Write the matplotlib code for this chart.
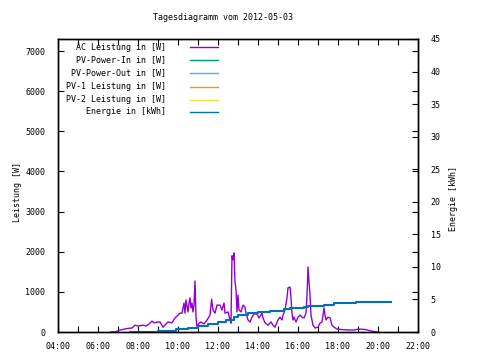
import matplotlib
matplotlib.use("Agg")
import matplotlib.pyplot as plt
from matplotlib.lines import Line2D

# ---- data ----
title = "Tagesdiagramm vom 2012-05-03"
series_labels = ["AC Leistung in [W]", "PV-Power-In in [W]", "PV-Power-Out in [W]",
                 "PV-1 Leistung in [W]", "PV-2 Leistung in [W]", "Energie in [kWh]"]
series_colors = ["#9400d3", "#009e73", "#56b4e9", "#e69f00", "#f0e442", "#0072b2"]

ac_time = [6.65, 6.9, 7.1, 7.3, 7.5, 7.7, 7.85, 8.0, 8.25, 8.4, 8.55, 8.7, 8.8, 9.0, 9.1,
           9.25, 9.5, 9.7, 9.85, 10.0, 10.1, 10.2, 10.3, 10.35, 10.4, 10.5, 10.55, 10.6,
           10.65, 10.7, 10.75, 10.8, 10.85, 10.9, 10.95, 11.05, 11.15, 11.3, 11.45, 11.6,
           11.68, 11.75, 11.85, 11.95, 12.1, 12.2, 12.3, 12.35, 12.5, 12.6, 12.65, 12.7,
           12.75, 12.8, 12.85, 12.9, 12.95, 13.0, 13.05, 13.15, 13.25, 13.35, 13.4, 13.5,
           13.6, 13.7, 13.8, 13.95, 14.05, 14.2, 14.25, 14.35, 14.5, 14.65, 14.75, 14.85,
           15.0, 15.1, 15.2, 15.25, 15.35, 15.45, 15.5, 15.6, 15.65, 15.7, 15.75, 15.8,
           15.9, 16.0, 16.1, 16.2, 16.3, 16.4, 16.45, 16.5, 16.55, 16.6, 16.65, 16.75,
           16.85, 17.0, 17.1, 17.2, 17.25, 17.3, 17.35, 17.4, 17.5, 17.6, 17.7, 17.8,
           17.95, 18.2, 18.5, 18.8, 19.0, 19.2, 19.4, 19.6, 19.85, 19.95]
ac_power = [0, 10, 50, 70, 90, 100, 170, 150, 170, 150, 200, 270, 230, 250, 250,
            120, 250, 230, 350, 420, 470, 470, 720, 470, 800, 500, 720, 850,
            600, 720, 500, 670, 1270, 370, 120, 220, 250, 200, 300, 420,
            820, 550, 470, 670, 670, 550, 720, 470, 500, 300, 220, 1900,
            1800, 1970, 1250, 1050, 500, 920, 550, 500, 670, 620, 470, 300,
            250, 370, 450, 450, 350, 470, 350, 230, 170, 250, 170, 120,
            300, 370, 300, 420, 550, 850, 1100, 1120, 850, 470, 300, 370,
            250, 370, 420, 370, 350, 470, 900, 1620, 1250, 920, 420, 170,
            100, 120, 220, 250, 420, 600, 420, 300, 370, 350, 170, 120,
            75, 60, 50, 50, 70, 70, 60, 30, 10, 0]

energy_time = [7.6, 9.0, 9.9, 10.5, 11.0, 11.5, 12.0, 12.4, 12.8, 13.0, 13.5, 14.0,
               14.6, 15.0, 15.3, 15.6, 16.3, 16.5, 17.3, 17.8, 18.9, 20.65]
energy_kwh = [0.0, 0.15, 0.4, 0.6, 0.9, 1.2, 1.5, 1.9, 2.3, 2.6, 2.9, 3.0,
              3.2, 3.3, 3.6, 3.7, 3.8, 4.0, 4.2, 4.4, 4.55, 4.55]

x_ticks = [4, 6, 8, 10, 12, 14, 16, 18, 20, 22]
x_ticklabels = ["04:00", "06:00", "08:00", "10:00", "12:00", "14:00", "16:00",
                "18:00", "20:00", "22:00"]
y_ticks = [0, 1000, 2000, 3000, 4000, 5000, 6000, 7000]
y2_ticks = [0, 5, 10, 15, 20, 25, 30, 35, 40, 45]

# ---- style ----
FONT = "DejaVu Sans Mono"
FS = 6
plt.rcParams["font.family"] = FONT
plt.rcParams["font.size"] = FS

W, H = 480, 360
fig = plt.figure(figsize=(4.8, 3.6), dpi=100)
L, R, T, B = 58, 418, 39, 332
ax = fig.add_axes([L / W, 1 - B / H, (R - L) / W, (B - T) / H])
ax2 = ax.twinx()

ax.plot(ac_time, ac_power, color=series_colors[0], lw=1.0)
ax2.plot(energy_time, energy_kwh, color=series_colors[5], lw=1.5, drawstyle="steps-post")

ax.set_xlim(4, 22)
ax.set_ylim(0, 7300)
ax2.set_ylim(0, 45)

ax.set_xticks(x_ticks)
ax.set_xticklabels(x_ticklabels)
ax.set_xticks(list(range(4, 23)), minor=True)
ax.set_yticks(y_ticks)
ax.set_yticklabels([str(v) for v in y_ticks])
ax2.set_yticks(y2_ticks)
ax2.set_yticklabels([str(v) for v in y2_ticks])

ax.tick_params(axis="x", which="both", direction="in", top=True, length=4, width=0.8,
               pad=7, labelsize=FS)
ax.tick_params(axis="y", which="both", direction="in", right=True, length=4, width=0.8,
               pad=9, labelsize=FS)
ax2.tick_params(axis="y", direction="in", length=4, width=0.8, pad=9, labelsize=FS)
for a in (ax, ax2):
    for s in a.spines.values():
        s.set_linewidth(1.0)
        s.set_color("black")

def fx(px):
    return px / W

def fy(py):
    return 1 - py / H

fig.text(fx(223), fy(18), title, ha="center", va="center", fontsize=FS)
fig.text(fx(18), fy(192), "Leistung [W]", rotation=90, ha="center", va="center", fontsize=FS)
fig.text(fx(453), fy(198), "Energie [kWh]", rotation=90, ha="center", va="center", fontsize=FS)

# legend (gnuplot style: right aligned text, sample to the right)
rows = [47, 60, 73, 86.5, 99.5, 112]
for lab, col, ry in zip(series_labels, series_colors, rows):
    fig.text(fx(166), fy(ry), lab, ha="right", va="center", fontsize=FS)
    fig.add_artist(Line2D([fx(190), fx(218)], [fy(ry), fy(ry)], color=col, lw=1.0,
                          transform=fig.transFigure))

fig.savefig("out.png", dpi=100)
